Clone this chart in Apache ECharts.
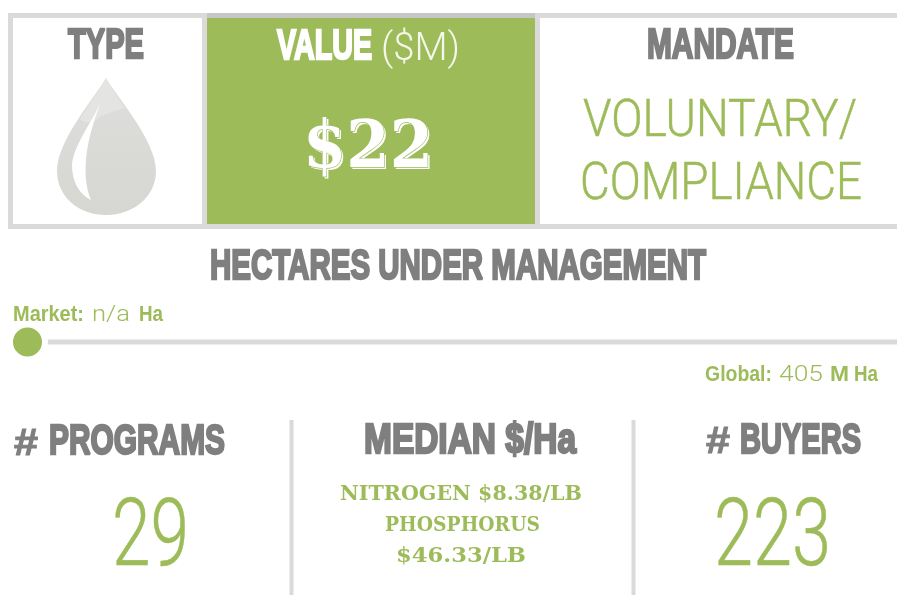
<!DOCTYPE html>
<html>
<head>
<meta charset="utf-8">
<title>Water quality market</title>
<script src="https://cdn.jsdelivr.net/npm/echarts@6/dist/echarts.min.js"></script>
<style>
  html, body { margin: 0; padding: 0; background: #fff; }
  #chart { width: 897px; height: 595px; filter: blur(0.4px); }
</style>
</head>
<body>
<div id="chart"></div>
<script>
// values
var typeTitle = "TYPE";
var valueTitle = ["VALUE", "($M)"];
var valueText = "$22";
var mandateTitle = "MANDATE";
var mandateLines = ["VOLUNTARY/", "COMPLIANCE"];
var hectaresTitle = "HECTARES UNDER MANAGEMENT";
var marketLabel = ["Market:", "n/a", "Ha"];
var globalLabel = ["Global:", "405", "M", "Ha"];
var sliderValues = [0];
var sliderRange = [0, 405];
var programsTitle = ["#", "PROGRAMS"];
var programsValue = "29";
var medianTitle = "MEDIAN $/Ha";
var medianLines = ["NITROGEN $8.38/LB", "PHOSPHORUS", "$46.33/LB"];
var buyersTitle = ["#", "BUYERS"];
var buyersValue = "223";

var GREEN = "#9dbb59";
var GREY = "#7f7f7f";
var BORDER = "#dadada";

var HEAD = "bold 42px 'Liberation Sans'";
var THIN = "300 52px Roboto";
var NUM = "300 94px Roboto";
var SLAB = "bold 21px 'DejaVu Serif'";
var SMALL = "bold 22px 'Liberation Sans'";
var SMALL_THIN = "300 22px Roboto";

var ctx = document.createElement("canvas").getContext("2d");

// text stretched to fill left..right, centred on cy
function label(str, left, right, cy, font, fill, opts) {
  opts = opts || {};
  ctx.font = font;
  var style = {
    text: str,
    font: font,
    fill: fill,
    align: "center",
    verticalAlign: "middle"
  };
  if (opts.stroke) {
    style.stroke = opts.stroke;
    style.lineWidth = opts.lineWidth || 1;
  }
  return {
    type: "text",
    z: opts.z || 5,
    x: (left + right) / 2,
    y: cy,
    scaleX: (right - left) / ctx.measureText(str).width,
    scaleY: opts.scaleY || 1,
    style: style
  };
}

function box(x, y, w, h, fill) {
  return { type: "rect", z: 1, shape: { x: x, y: y, width: w, height: h }, style: { fill: fill } };
}

var heavy = { stroke: GREY, lineWidth: 2.4 };
var lightStroke = { stroke: GREEN, lineWidth: 0.5 };

var graphic = [
  // top panel frame, the piece above the green box is darker
  box(8, 13, 889, 5, BORDER),
  box(207, 13, 328, 5, "#c6c6c6"),
  box(8, 224, 889, 5, BORDER),
  box(8, 13, 5, 216, BORDER),
  box(202, 18, 5, 206, BORDER),
  box(535, 18, 5, 206, BORDER),
  box(207, 18, 328, 206, GREEN),
  // lower dividers
  box(289.5, 420, 4, 175, BORDER),
  box(631.5, 420, 4, 175, BORDER),

  label(typeTitle, 68, 144, 46, HEAD, GREY, heavy),
  label(valueTitle[0], 277, 372, 47, HEAD, "#ffffff", { stroke: "#ffffff", lineWidth: 2.4 }),
  label(valueTitle[1], 381, 460, 50, "300 38px Roboto", "#f4f7ea"),
  // $22 sits on a white copy for the engraved look
  label(valueText, 305, 435, 152, "bold 66px 'DejaVu Serif'", "#ffffff", { z: 4 }),
  label(valueText, 303, 433, 150, "bold 66px 'DejaVu Serif'", "#ffffff", { stroke: GREEN, lineWidth: 1.4 }),
  label(mandateTitle, 647, 794, 46, HEAD, GREY, heavy),
  label(mandateLines[0], 583, 857, 123, THIN, GREEN, lightStroke),
  label(mandateLines[1], 580, 862, 186, THIN, GREEN, lightStroke),

  label(hectaresTitle, 210, 706, 267, HEAD, GREY, heavy),

  label(marketLabel[0], 13, 84, 315, SMALL, GREEN),
  label(marketLabel[1], 92, 130, 315, SMALL_THIN, GREEN),
  label(marketLabel[2], 139, 163, 315, SMALL, GREEN),
  label(globalLabel[0], 705, 772, 375, SMALL, GREEN),
  label(globalLabel[1], 779, 823, 375, SMALL_THIN, GREEN),
  label(globalLabel[2], 830, 849, 375, SMALL, GREEN),
  label(globalLabel[3], 854, 878, 375, SMALL, GREEN),

  label(programsTitle[0], 14, 38, 445, "bold 36px 'Liberation Sans'", GREY, { stroke: GREY, lineWidth: 1 }),
  label(programsTitle[1], 49, 225, 442, HEAD, GREY, heavy),
  label(medianTitle, 364, 576, 441, HEAD, GREY, heavy),
  label(buyersTitle[0], 706, 730, 443, "bold 36px 'Liberation Sans'", GREY, { stroke: GREY, lineWidth: 1 }),
  label(buyersTitle[1], 740, 861, 441, HEAD, GREY, heavy),

  label(programsValue, 112, 189, 541, NUM, GREEN, lightStroke),
  label(medianLines[0], 340, 582, 495, SLAB, GREEN),
  label(medianLines[1], 385, 540, 526, SLAB, GREEN),
  label(medianLines[2], 396, 526, 557, SLAB, GREEN),
  label(buyersValue, 714, 831, 541, NUM, GREEN, lightStroke)
];

// the drop icon goes through a custom series, graphic has no path type
function renderDrop() {
  return {
    type: "group",
    children: [
      {
        type: "path",
        shape: {
          pathData: "M106 78 C96 96 57 140 57 171 C57 197 79 215 106 215 C133 215 156 197 156 171 C156 140 116 96 106 78 Z",
          x: 57, y: 78, width: 99, height: 137, layout: "cover"
        },
        style: {
          fill: {
            type: "linear", x: 0, y: 0, x2: 0, y2: 1,
            colorStops: [{ offset: 0, color: "#dededc" }, { offset: 1, color: "#d6d6d3" }]
          }
        }
      },
      {
        type: "path",
        shape: {
          pathData: "M106 78 C102 86 90 102 80 118 C86 122 92 122 100 116 C108 112 116 110 124 107 C116 94 110 86 106 78 Z",
          x: 80, y: 78, width: 44, height: 44, layout: "cover"
        },
        style: { fill: "#e4e4e2" }
      },
      {
        type: "path",
        shape: {
          pathData: "M101 102 C92 122 72 148 72 166 C72 182 80 195 91 200 C83 180 82 150 101 102 Z",
          x: 72, y: 102, width: 29, height: 98, layout: "cover"
        },
        style: { fill: "#ffffff" }
      }
    ]
  };
}

var chart = echarts.init(document.getElementById("chart"));
chart.setOption({
  animation: false,
  grid: { left: 27.5, right: 0, top: 332, height: 20 },
  xAxis: { type: "value", min: sliderRange[0], max: sliderRange[1], show: false },
  yAxis: { type: "value", min: -1, max: 1, show: false },
  graphic: graphic,
  series: [
    {
      type: "custom",
      coordinateSystem: "none",
      silent: true,
      renderItem: renderDrop,
      data: [0],
      z: 3
    },
    {
      type: "line",
      silent: true,
      symbol: "none",
      lineStyle: { color: BORDER, width: 5 },
      data: sliderRange.map(function (v) { return [v, 0]; }),
      z: 1
    },
    {
      type: "scatter",
      silent: true,
      clip: false,
      symbolSize: 35,
      itemStyle: { color: GREEN, borderColor: "#ffffff", borderWidth: 6, opacity: 1 },
      data: sliderValues.map(function (v) { return [v, 0]; }),
      z: 2
    }
  ]
});
</script>
</body>
</html>
